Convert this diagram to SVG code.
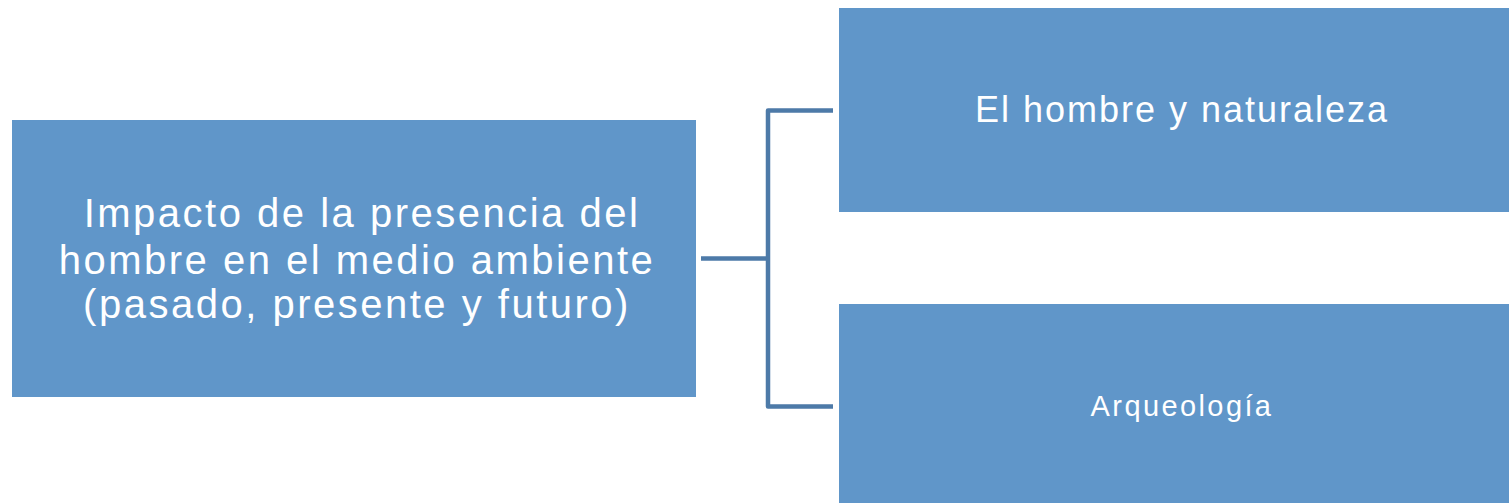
<svg xmlns="http://www.w3.org/2000/svg" width="1509" height="503" viewBox="0 0 1509 503">
<style>
.box{fill:#6096c9;}
.t{fill:#ffffff;font-family:"Liberation Sans","Noto Sans",sans-serif;text-anchor:middle;}
.c{fill:none;stroke:#4d7aa8;stroke-width:4.5;stroke-linejoin:round;}
</style>
<rect width="1509" height="503" fill="#ffffff"/>
<g id="connectors">
<path class="c" d="M701 258.5 H768"/>
<path class="c" d="M833 110.5 H768 V406.5 H833"/>
</g>
<g id="main">
<rect class="box" x="12" y="120" width="684" height="277"/>
<text class="t" font-size="40" letter-spacing="2.5"><tspan x="362" y="227">Impacto de la presencia del</tspan><tspan x="357" y="274">hombre en el medio ambiente</tspan><tspan x="357" y="318">(pasado, presente y futuro)</tspan></text>
</g>
<g id="n1">
<rect class="box" x="839" y="8" width="670" height="204"/>
<text class="t" font-size="36" letter-spacing="2" x="1182" y="122">El hombre y naturaleza</text>
</g>
<g id="n2">
<rect class="box" x="839" y="304" width="670" height="199"/>
<text class="t" font-size="29" letter-spacing="2.4" x="1182" y="416">Arqueología</text>
</g>
</svg>
